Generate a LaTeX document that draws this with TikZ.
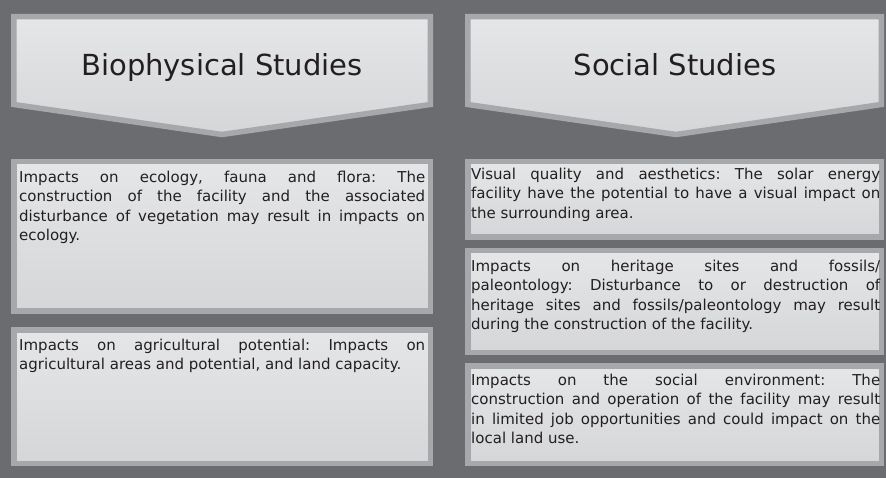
\documentclass[tikz,border=0pt]{standalone}
\usepackage{xcolor}
\usepackage{fontspec}
\setmainfont{DejaVu Sans}
\usetikzlibrary{
    positioning,
}
\definecolor{slate}{HTML}{6B6C70}
\definecolor{rim}{HTML}{A7A8AB}
\definecolor{paneltop}{HTML}{E5E6E8}
\definecolor{panelbot}{HTML}{D5D6D8}
\definecolor{ink}{HTML}{231F20}
\tolerance=10000
\hbadness=10000
\hyphenpenalty=10000
\exhyphenpenalty=10000
\frenchspacing

\begin{document}
\begin{tikzpicture}[x=1pt,y=-1pt]

    \tikzstyle{commonPanel}=[draw=rim, line width=5.5pt, top color=paneltop, bottom color=panelbot, line join=miter]
    \tikzstyle{heading}=[text=ink, font=\fontsize{29}{34}\selectfont, anchor=base, inner sep=0pt]
    \tikzstyle{impact}=[text=ink, font=\fontsize{15}{19.5}\selectfont, align=justify, anchor=north west, inner sep=0pt]
    \tikzstyle{leftImpact}=[impact, text width=406pt]
    \tikzstyle{rightImpact}=[impact, text width=409pt]

    % Background
    \fill[slate] (0,0) rectangle (886,478);
    \useasboundingbox (0,0) rectangle (886,478);

    % Headings
    \draw[commonPanel] (13.75,16.75) -- (430.25,16.75) -- (430.25,104.5) -- (222,134.5) -- (13.75,104.5) -- cycle;
    \draw[commonPanel] (467.75,16.75) -- (881.25,16.75) -- (881.25,104.5) -- (676,134.5) -- (467.75,104.5) -- cycle;
    \node at (222,76) [heading] (BS) {Biophysical Studies};
    \node at (675,76) [heading] (SS) {Social Studies};

    % Panels
    \draw[commonPanel] (13.75,161.75) rectangle (430.25,311.25);
    \draw[commonPanel] (13.75,329.75) rectangle (430.25,463.5);
    \draw[commonPanel] (467.75,161.75) rectangle (881.25,237.25);
    \draw[commonPanel] (467.75,250.75) rectangle (881.25,352.25);
    \draw[commonPanel] (467.75,365.75) rectangle (881.25,463.5);

    % Biophysical impacts
    \node at (19,170.5) [leftImpact] (ECO) {Impacts on ecology, fauna and flora: The\linebreak construction of the facility and the associated\linebreak disturbance of vegetation may result in impacts on\linebreak ecology.};
    \node at (19,338.5) [leftImpact] (AGR) {Impacts on agricultural potential: Impacts on\linebreak agricultural areas and potential, and land capacity.};

    % Social impacts
    \node at (471,167.5) [rightImpact] (VIS) {Visual quality and aesthetics: The solar energy\linebreak facility have the potential to have a visual impact on\linebreak the surrounding area.};
    \node at (471,259.5) [rightImpact] (HER) {Impacts on heritage sites and fossils/\linebreak paleontology: Disturbance to or destruction of\linebreak heritage sites and fossils/paleontology may result\linebreak during the construction of the facility.};
    \node at (471,373.5) [rightImpact] (SOC) {Impacts on the social environment: The\linebreak construction and operation of the facility may result\linebreak in limited job opportunities and could impact on the\linebreak local land use.};

\end{tikzpicture}
\end{document}
